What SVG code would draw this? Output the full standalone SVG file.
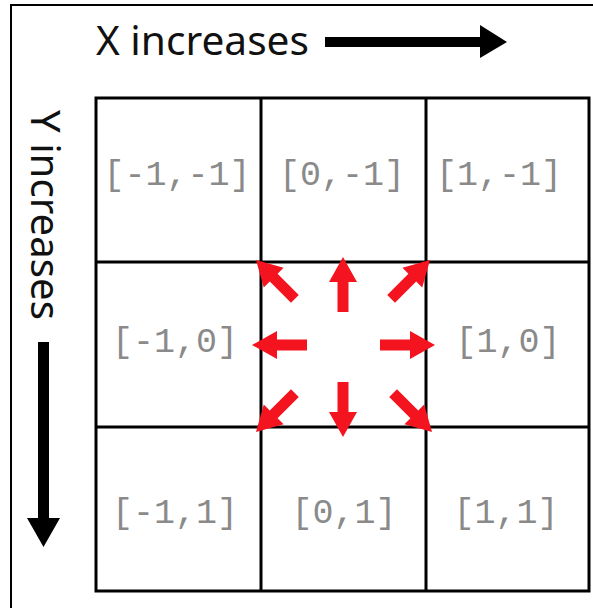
<svg xmlns="http://www.w3.org/2000/svg" width="593" height="608" viewBox="0 0 593 608">
<style>
.axis{font-family:"Noto Sans","DejaVu Sans",sans-serif;font-size:40px;fill:#111}
.lbl{font-family:"Liberation Mono","Courier New",monospace;font-size:35px;fill:#8a8a8a;text-anchor:middle}
.grid{fill:none;stroke:#000;stroke-width:3}
.red{fill:#f3141f}
</style>
<defs>
<path id="ra" d="M0,0 L14,25 L5.5,25 L5.5,55 L-5.5,55 L-5.5,25 L-14,25 Z"/>
</defs>
<rect width="593" height="608" fill="#fff"/>
<path d="M11,608 V5 H593" fill="none" stroke="#000" stroke-width="2"/>
<g id="x-axis">
<text class="axis" x="96" y="55" textLength="213" lengthAdjust="spacingAndGlyphs">X increases</text>
<path d="M325,37 H480 V25 L507,42 L480,58 V47 H325 Z" fill="#000"/>
</g>
<g id="y-axis">
<text class="axis" transform="translate(31,110) rotate(90)" x="0" y="0" textLength="210" lengthAdjust="spacingAndGlyphs">Y increases</text>
<path d="M38,342 H49 V518 H60 L43.5,547 L27,518 H38 Z" fill="#000"/>
</g>
<g id="grid">
<rect class="grid" x="96" y="98" width="493" height="493"/>
<path class="grid" d="M261,98 V591 M426,98 V591 M96,262 H589 M96,427 H589"/>
</g>
<g id="cell-m1-m1"><text class="lbl" x="177" y="185">[-1,-1]</text></g>
<g id="cell-0-m1"><text class="lbl" x="342" y="185">[0,-1]</text></g>
<g id="cell-1-m1"><text class="lbl" x="499" y="185">[1,-1]</text></g>
<g id="cell-m1-0"><text class="lbl" x="175" y="352">[-1,0]</text></g>
<g id="cell-0-0"></g>
<g id="cell-1-0"><text class="lbl" x="508" y="352">[1,0]</text></g>
<g id="cell-m1-1"><text class="lbl" x="175" y="523">[-1,1]</text></g>
<g id="cell-0-1"><text class="lbl" x="344" y="523">[0,1]</text></g>
<g id="cell-1-1"><text class="lbl" x="506" y="523">[1,1]</text></g>
<g id="connectors" class="red">
<use href="#ra" transform="translate(343,257)"/>
<use href="#ra" transform="translate(343,437) rotate(180)"/>
<use href="#ra" transform="translate(252,345) rotate(-90)"/>
<use href="#ra" transform="translate(435,345) rotate(90)"/>
<use href="#ra" transform="translate(256,260) rotate(-45)"/>
<use href="#ra" transform="translate(430,260) rotate(45)"/>
<use href="#ra" transform="translate(256,432) rotate(-135)"/>
<use href="#ra" transform="translate(432,432) rotate(135)"/>
</g>
</svg>
